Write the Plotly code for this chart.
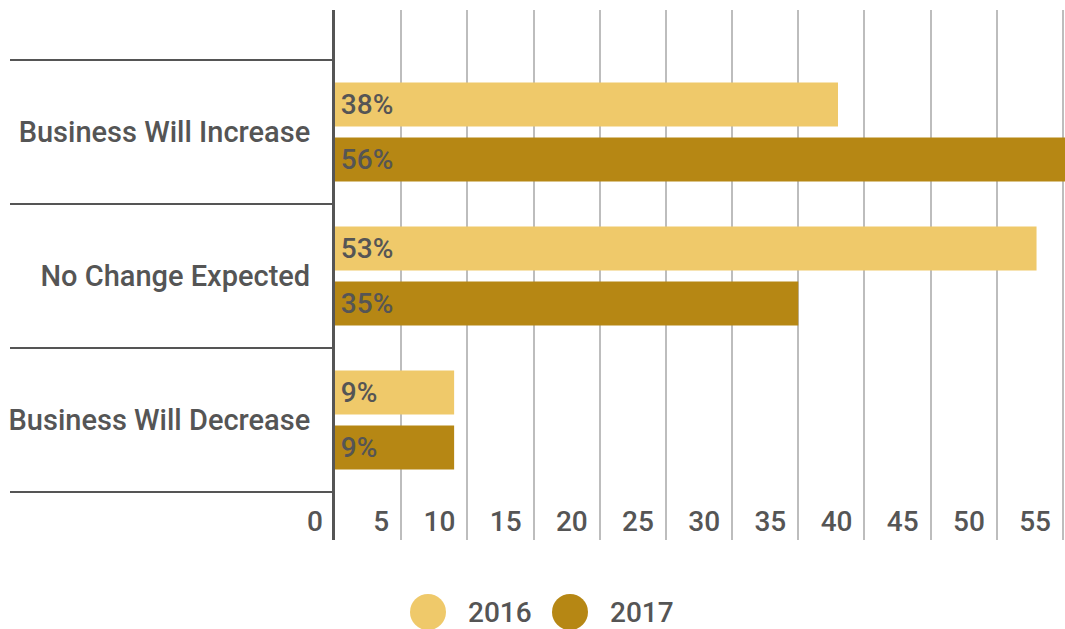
import plotly.graph_objects as go

# Survey outlook by year (percent of respondents)
categories = ["Business Will Increase", "No Change Expected", "Business Will Decrease"]
years = ["2016", "2017"]
values_2016 = [38, 53, 9]
values_2017 = [56, 35, 9]
x_ticks = [0, 5, 10, 15, 20, 25, 30, 35, 40, 45, 50, 55]

colors = {"2016": "#EFC96A", "2017": "#B68714"}
text_color = "#555555"
font_family = "Roboto, 'Open Sans', sans-serif"
font_size = 29
font_weight = 500

W, H = 1065, 629
M_L, M_R, M_T, M_B = 335, 0, 10, 89

fig = go.Figure()
for year, vals in zip(years, [values_2016, values_2017]):
    fig.add_trace(go.Bar(
        y=categories,
        x=vals,
        orientation="h",
        name=year,
        marker=dict(color=colors[year], line=dict(width=0)),
        text=[f"\u200a{v}%" for v in vals],
        textposition="inside",
        insidetextanchor="start",
        textfont=dict(family=font_family, size=28, color=text_color,
                      weight=font_weight),
        constraintext="none",
        cliponaxis=True,
        showlegend=False,
        hoverinfo="skip",
    ))

# category boundary rules extending left of the axis
n = len(categories)
for k in range(n + 1):
    fig.add_shape(
        type="line", xref="paper", yref="y",
        x0=(10 - M_L) / (W - M_L - M_R), x1=0,
        y0=k - 0.5, y1=k - 0.5,
        line=dict(color="#555555", width=2),
        layer="above",
    )

# legend: circles with year labels
plot_w = W - M_L - M_R
plot_h = H - M_T - M_B
legend_items = [(428, "2016"), (570, "2017")]
for cx, year in legend_items:
    px = (cx - M_L) / plot_w
    py = (H - M_B - 612) / plot_h
    rx = 18 / plot_w
    ry = 18 / plot_h
    fig.add_shape(
        type="circle", xref="paper", yref="paper",
        x0=px - rx, x1=px + rx, y0=py - ry, y1=py + ry,
        fillcolor=colors[year], line=dict(width=0),
    )
    fig.add_annotation(
        xref="paper", yref="paper",
        x=(cx + 38 - M_L) / plot_w, y=py,
        text=year, showarrow=False,
        xanchor="left", yanchor="middle",
        font=dict(family=font_family, size=28, color=text_color,
                  weight=font_weight),
    )

fig.update_layout(
    width=W, height=H,
    margin=dict(l=M_L, r=M_R, t=M_T, b=M_B, pad=0),
    paper_bgcolor="white",
    plot_bgcolor="white",
    barmode="group",
    bargap=0.236,
    bargroupgap=0.2,
    font=dict(family=font_family, size=font_size, color=text_color),
    showlegend=False,
    uniformtext=dict(mode=False),
)

fig.update_xaxes(
    range=[0, 55.15],
    tickvals=x_ticks,
    ticktext=[str(t) for t in x_ticks],
    showgrid=True,
    gridcolor="#BDBDBD",
    gridwidth=2,
    zeroline=False,
    showline=False,
    ticks="",
    ticklabelposition="inside left",
    ticklabeloverflow="allow",
    ticklabelstandoff=-3,
    ticklabelshift=-12,
    tickfont=dict(family=font_family, size=28, color=text_color,
                  weight=font_weight),
)

fig.update_yaxes(
    type="category",
    categoryorder="array",
    categoryarray=categories,
    range=[2.833, -0.847],
    showgrid=False,
    zeroline=False,
    showline=True,
    linecolor="#555555",
    linewidth=3,
    ticks="",
    ticklabelstandoff=16,
    tickfont=dict(family=font_family, size=font_size, color=text_color,
                  weight=font_weight),
)

fig.write_html("out.html")
